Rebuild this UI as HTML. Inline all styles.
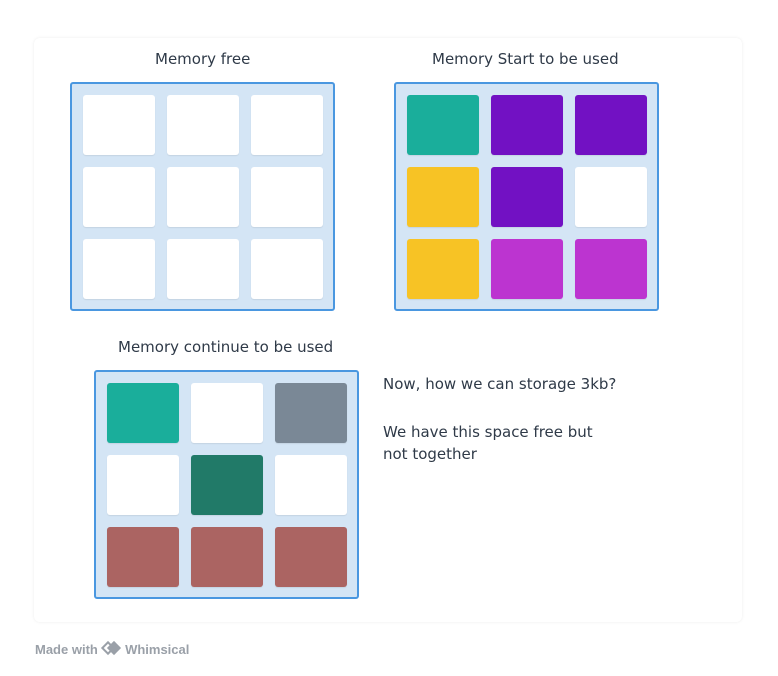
<!DOCTYPE html>
<html><head><meta charset="utf-8"><style>
*{margin:0;padding:0;box-sizing:border-box}
body{width:778px;height:676px;background:#fff;position:relative;overflow:hidden;font-family:"DejaVu Sans","Liberation Sans",sans-serif;color:#2f3a48}
.card{position:absolute;left:34px;top:38px;width:708px;height:584px;border-radius:6px;box-shadow:0 0 3px rgba(0,0,0,0.08);background:#fff}
.frame{position:absolute;width:265px;height:229px;background:#d4e5f5;border:2px solid #4a97e0;border-radius:3px}
.c{position:absolute;width:72px;height:60px;border-radius:3px;background:#fff;box-shadow:0 1px 1px rgba(0,0,0,0.08)}
.t{position:absolute;font-size:15px;white-space:nowrap}
.txt{position:absolute;font-size:15px;line-height:22px}
.foot{position:absolute;left:35px;top:642px;font-size:13px;font-weight:bold;color:#9aa0a8;font-family:"Liberation Sans",sans-serif}
</style></head><body>
<div class="card"></div>
<div class="t" style="left:155px;top:50px">Memory free</div>
<div class="t" style="left:432px;top:50px">Memory Start to be used</div>
<div class="t" style="left:118px;top:338px">Memory continue to be used</div>
<div class="frame" style="left:70px;top:82px"></div>
<div class="frame" style="left:394px;top:82px"></div>
<div class="frame" style="left:94px;top:370px"></div>
<!-- frame1 -->
<div class="c" style="left:83px;top:95px"></div><div class="c" style="left:167px;top:95px"></div><div class="c" style="left:251px;top:95px"></div>
<div class="c" style="left:83px;top:167px"></div><div class="c" style="left:167px;top:167px"></div><div class="c" style="left:251px;top:167px"></div>
<div class="c" style="left:83px;top:239px"></div><div class="c" style="left:167px;top:239px"></div><div class="c" style="left:251px;top:239px"></div>
<!-- frame2 -->
<div class="c" style="left:407px;top:95px;background:#1aae9b"></div><div class="c" style="left:491px;top:95px;background:#7211c3"></div><div class="c" style="left:575px;top:95px;background:#7211c3"></div>
<div class="c" style="left:407px;top:167px;background:#f7c325"></div><div class="c" style="left:491px;top:167px;background:#7211c3"></div><div class="c" style="left:575px;top:167px"></div>
<div class="c" style="left:407px;top:239px;background:#f7c325"></div><div class="c" style="left:491px;top:239px;background:#bc34d0"></div><div class="c" style="left:575px;top:239px;background:#bc34d0"></div>
<!-- frame3 -->
<div class="c" style="left:107px;top:383px;background:#1aae9b"></div><div class="c" style="left:191px;top:383px"></div><div class="c" style="left:275px;top:383px;background:#7a8896"></div>
<div class="c" style="left:107px;top:455px"></div><div class="c" style="left:191px;top:455px;background:#217a68"></div><div class="c" style="left:275px;top:455px"></div>
<div class="c" style="left:107px;top:527px;background:#ab6462"></div><div class="c" style="left:191px;top:527px;background:#ab6462"></div><div class="c" style="left:275px;top:527px;background:#ab6462"></div>
<div class="txt" style="left:383px;top:373px">Now, how we can storage 3kb?</div>
<div class="txt" style="left:383px;top:421px">We have this space free but<br>not together</div>
<div class="foot">Made with <span style="display:inline-block;width:20px;height:12px;vertical-align:-1px;position:relative"><span style="position:absolute;left:2px;top:0;width:10px;height:10px;border:2px solid #9aa0a8;transform:rotate(45deg)"></span><span style="position:absolute;left:8px;top:0;width:10px;height:10px;background:#9aa0a8;transform:rotate(45deg)"></span></span> Whimsical</div>
</body></html>
